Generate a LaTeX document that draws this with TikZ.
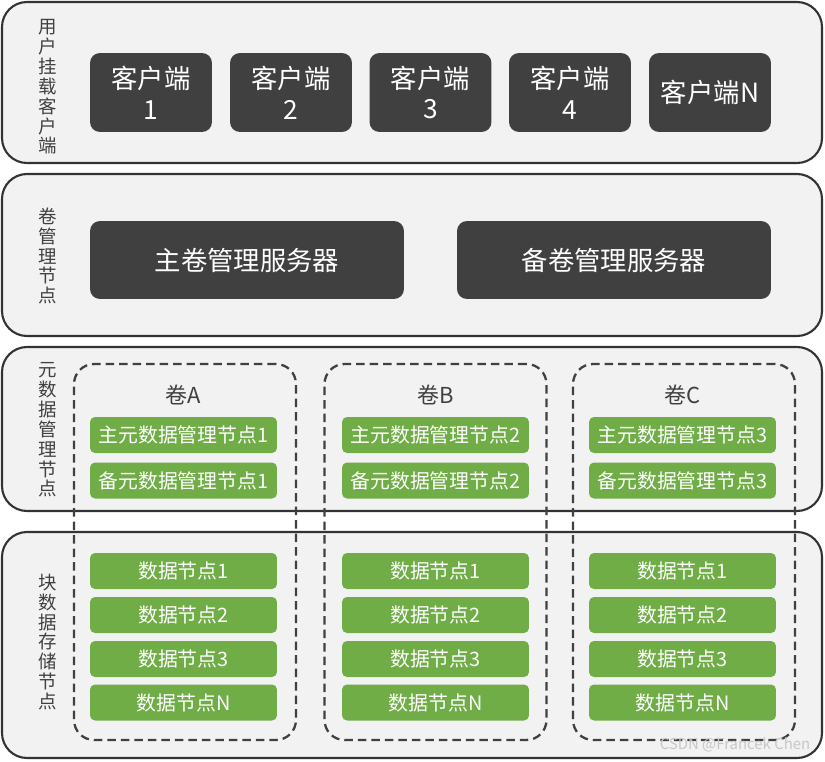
\documentclass[tikz,border=0pt]{standalone}
\usepackage{fontspec}
\setmainfont{Noto Sans CJK SC}
\usetikzlibrary{positioning}
\definecolor{panelgray}{HTML}{F2F2F2}
\definecolor{edgegray}{HTML}{333333}
\definecolor{boxdark}{HTML}{404040}
\definecolor{nodegreen}{HTML}{70AD47}
\tikzset{
  layer/.style={draw=edgegray, line width=1.2pt, fill=panelgray, rounded corners=0.5cm},
  layerlabel/.style={text=boxdark, align=center, inner sep=0pt,
    font=\fontsize{10.5}{11.3}\selectfont},
  darkbox/.style={fill=boxdark, text=white, rounded corners=0.2cm, align=center,
    inner sep=0pt, font=\fontsize{15}{17.5}\selectfont},
  volbox/.style={draw=boxdark, line width=1.3pt, dash pattern=on 0.17cm off 0.1cm,
    rounded corners=0.4cm, minimum width=4.44cm, minimum height=7.52cm, inner sep=0pt},
  voltitle/.style={text=boxdark, font=\fontsize{12.5}{14}\selectfont, inner sep=0pt},
  greenbox/.style={fill=nodegreen, text=white, rounded corners=0.1cm, minimum width=3.74cm,
    minimum height=0.72cm, inner sep=0pt, font=\fontsize{11.3}{13}\selectfont},
}
\begin{document}
\begin{tikzpicture}[x=0.02cm, y=-0.02cm]
    \useasboundingbox (0,0) rectangle (825,761);
    % four layers
    \draw[layer] (2,2) rectangle (822,163);
    \draw[layer] (2,174) rectangle (822,336);
    \draw[layer] (2,347) rectangle (822,511);
    \draw[layer] (2,532) rectangle (822,758);
    \node[layerlabel] (labclient) at (48,87) {用\\户\\挂\\载\\客\\户\\端};
    \node[layerlabel] (labvolume) at (48,256) {卷\\管\\理\\节\\点};
    \node[layerlabel] (labmeta) at (48,430) {元\\数\\据\\管\\理\\节\\点};
    \node[layerlabel] (labblock) at (48,642) {块\\数\\据\\存\\储\\节\\点};
    % clients
    \foreach \i/\x in {1/151,2/291,3/430.5,4/570}
      \node[darkbox, minimum width=2.44cm, minimum height=1.58cm] (client\i) at (\x,92.5) {客户端\\\i};
    \node[darkbox, minimum width=2.44cm, minimum height=1.58cm] (clientN) at (710,92.5) {客户端N};
    % volume servers
    \node[darkbox, minimum width=6.28cm, minimum height=1.56cm] (mainserver) at (247,260) {主卷管理服务器};
    \node[darkbox, minimum width=6.28cm, minimum height=1.56cm] (backupserver) at (614,260) {备卷管理服务器};
    % volumes
    \foreach \v/\bx/\gx/\n in {A/185/183.5/1, B/435.5/435.5/2, C/684/682.5/3}
    {
      \node[volbox] (vol\v) at (\bx,552) {};
      \node[voltitle] (title\v) at (\gx,395) {卷\v};
      \node[greenbox] (main\v) at (\gx,435) {主元数据管理节点\n};
      \node[greenbox] (backup\v) at (\gx,480.5) {备元数据管理节点\n};
      \foreach \k/\y in {1/571,2/615,3/659,N/702.5}
        \node[greenbox] (data\v\k) at (\gx,\y) {数据节点\k};
    }
    \node[text=black!22, font=\fontsize{8.5}{10}\selectfont, inner sep=0pt] (mark) at (735,745) {CSDN @Francek Chen};
  \end{tikzpicture}
\end{document}
